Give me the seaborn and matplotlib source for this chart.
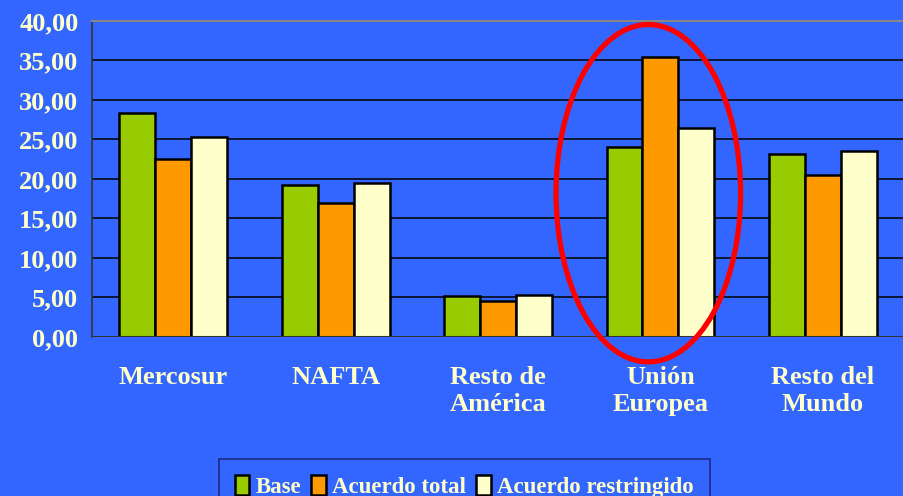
import pandas as pd
import numpy as np
import seaborn as sns
import matplotlib.pyplot as plt
from matplotlib.patches import Ellipse, Patch
from matplotlib.ticker import FixedLocator, FuncFormatter

sns.set_style('white')
plt.rcParams['font.family'] = ['Liberation Serif', 'DejaVu Serif']
plt.rcParams['font.weight'] = 'bold'

regiones = ['Mercosur', 'NAFTA', 'Resto de\nAmérica', 'Unión\nEuropea', 'Resto del\nMundo']
escenarios = ['Base', 'Acuerdo total', 'Acuerdo restringido']
base = [28.3, 19.2, 5.25, 24.0, 23.2]
acuerdo_total = [22.5, 16.95, 4.5, 35.4, 20.5]
acuerdo_restr = [25.3, 19.5, 5.3, 26.5, 23.5]
colores = ['#99CC00', '#FF9900', '#FFFFCC']

BG = '#3366FF'
TXT = '#FFFFCC'

df = pd.DataFrame({
    'region': regiones * 3,
    'escenario': [escenarios[0]] * 5 + [escenarios[1]] * 5 + [escenarios[2]] * 5,
    'valor': base + acuerdo_total + acuerdo_restr,
})

fig = plt.figure(figsize=(9.04, 4.96), dpi=100, facecolor=BG)
ax = fig.add_axes([0.1021, 0.3206, 0.8979, 0.6371])
ax.set_facecolor(BG)

sns.barplot(data=df, x='region', y='valor', hue='escenario', palette=colores,
            saturation=1, width=0.665, edgecolor='black', linewidth=1.8, ax=ax, legend=False)

ax.set_ylim(0, 40)
ax.set_xlim(-0.5, 4.5)
ax.set_yticks(np.arange(0, 41, 5))
ax.yaxis.set_major_formatter(FuncFormatter(lambda v, p: '{:.2f}'.format(v).replace('.', ',')))
ax.grid(axis='y', color='black', linewidth=1.1)
ax.set_axisbelow(True)
ax.set_xlabel('')
ax.set_ylabel('')

for s in ['right', 'bottom']:
    ax.spines[s].set_visible(False)
ax.spines['top'].set_color('#888888')
ax.spines['top'].set_linewidth(1.5)
ax.spines['left'].set_color('#333333')
ax.spines['left'].set_linewidth(1.2)
ax.axhline(0, color='#333333', linewidth=1.5, zorder=5)

ax.tick_params(axis='y', direction='out', length=7, width=1, color='black',
               labelsize=19, labelcolor=TXT, pad=3)
ax.tick_params(axis='x', which='major', length=0, labelsize=19, labelcolor=TXT, pad=21)
ax.xaxis.set_minor_locator(FixedLocator([0.5, 1.5, 2.5, 3.5]))
ax.tick_params(axis='x', which='minor', direction='out', length=7, width=1.2, color='#333333')
for lab in ax.get_xticklabels():
    lab.set_linespacing(1.2)

# circulo rojo sobre la UE
ell = Ellipse((2.925, 18.2), 1.137, 42.7, fill=False, edgecolor='#FF0000',
              linewidth=3.8, clip_on=False, zorder=10)
ax.add_patch(ell)

handles = [Patch(facecolor=c, edgecolor='black', linewidth=1.8) for c in colores]
leg = fig.legend(handles, escenarios, loc='upper left', bbox_to_anchor=(0.242, 0.0746),
                 ncol=3, frameon=True, fontsize=16.5, handlelength=0.62, handleheight=0.95,
                 handletextpad=0.28, columnspacing=0.45, borderpad=0.7, borderaxespad=0,
                 fancybox=False, labelcolor=TXT)
leg.get_frame().set_facecolor(BG)
leg.get_frame().set_edgecolor('#1a1a66')
leg.get_frame().set_linewidth(1.2)

plt.savefig('out.png', dpi=100, facecolor=BG)
